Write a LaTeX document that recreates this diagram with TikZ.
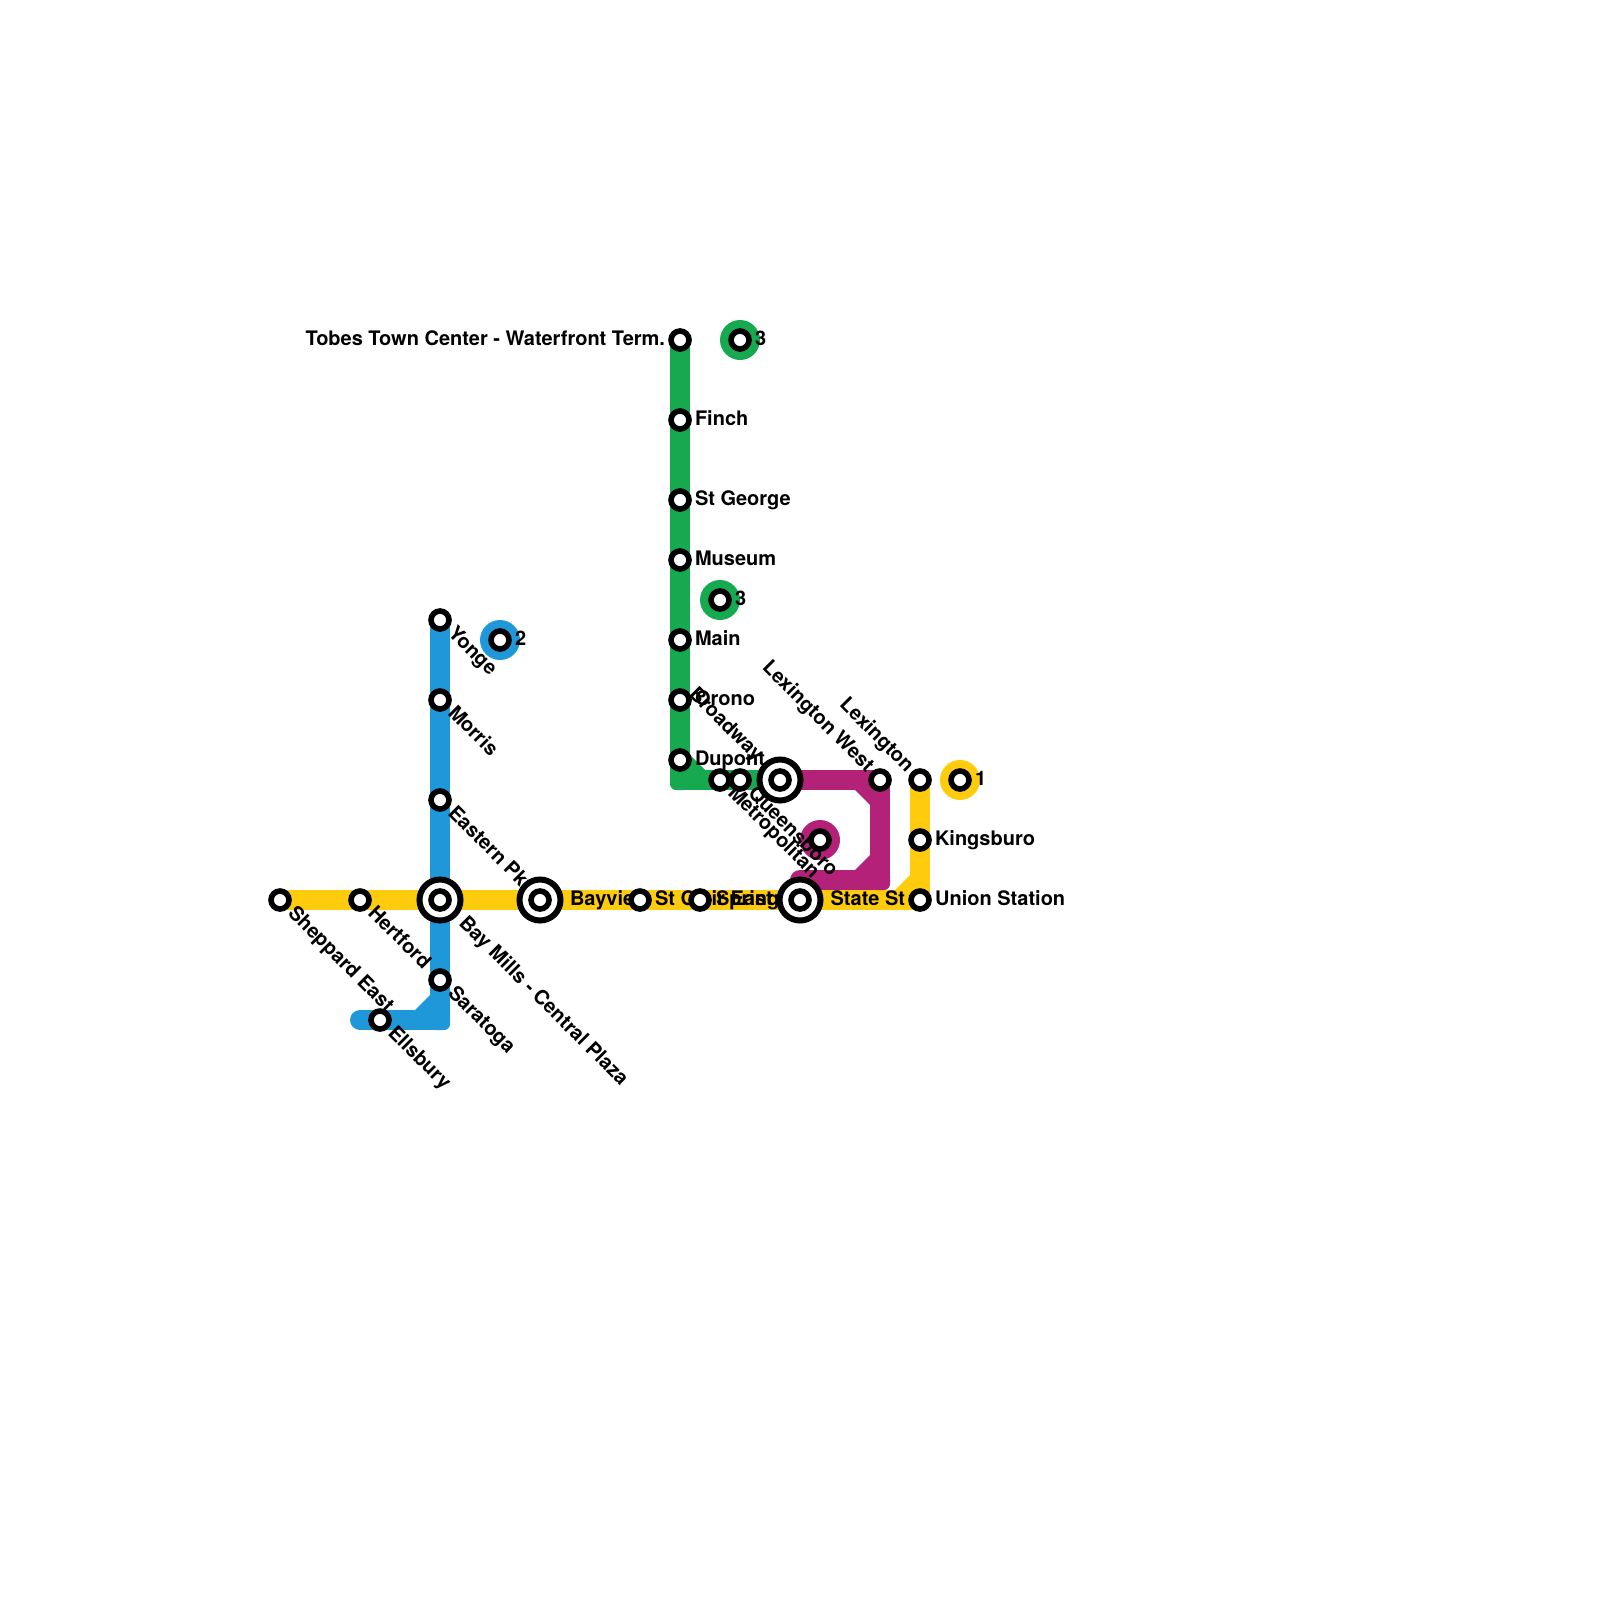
\documentclass[tikz,border=0pt]{standalone}
\usepackage{fontspec}
\setmainfont{TeX Gyre Heros}
\definecolor{yel}{HTML}{FFCB0D}
\definecolor{grn}{HTML}{16A950}
\definecolor{blu}{HTML}{1E98D8}
\definecolor{pur}{HTML}{B32278}
\tikzset{
  x=1pt,y=-1pt,
  every node/.style={inner sep=0pt,outer sep=0pt},
  route/.style={line width=20pt,line cap=round,line join=round},
  cornerbox/.style={rectangle,minimum size=20pt,rounded corners=6pt},
  stn/.style={circle,draw=black,fill=white,line width=5.6pt,minimum size=18pt},
  hubring/.style={circle,draw=black,fill=white,line width=6pt,minimum size=41pt},
  lbl/.style={font=\fontsize{20pt}{24pt}\selectfont\bfseries,text=black},
  lr/.style={lbl,anchor=base west},
  ll/.style={lbl,anchor=base east},
  ld/.style={lbl,anchor=base west,rotate=-45},
  lu/.style={lbl,anchor=base east,rotate=-45},
}
\begin{document}
\begin{tikzpicture}
\useasboundingbox (0,0) rectangle (1600,1600);
% coordinates
\foreach \n/\x/\y in {sheppard/280/900,hertford/360/900,baymills/440/900,bayview/540/900,stc/640/900,spe/700/900,statest/800/900,union/920/900,kingsburo/920/840,lexington/920/780,
 tobes/680/340,finch/680/420,stgeorge/680/500,museum/680/560,main/680/640,orono/680/700,dupont/680/760,broadway/720/780,queensboro/740/780,metropolitan/780/780,lexwest/880/780,
 yonge/440/620,morris/440/700,eastern/440/800,saratoga/440/980,ellsbury/380/1020,
 leg1/960/780,leg2/500/640,leg3a/740/340,leg3b/720/600,legp/820/840,
 gc/680/780,bc/440/1020,be/360/1020,pc1/880/780,pc2/880/880,pe/800/880,yc/920/900}
 {\coordinate (\n) at (\x,\y);}
% legend discs
\fill[yel] (leg1) circle (20);
\fill[blu] (leg2) circle (20);
\fill[grn] (leg3a) circle (20);
\fill[grn] (leg3b) circle (20);
\fill[pur] (legp) circle (20);
% routes
\draw[route,yel] (sheppard) -- (union) -- (lexington);
\node[cornerbox,fill=yel] at (yc) {};
\fill[yel] (910,875) -- (910,890) -- (895,890) -- cycle;
\draw[route,blu] (yonge) -- (bc) -- (be);
\node[cornerbox,fill=blu] at (bc) {};
\fill[blu] (430,995) -- (430,1010) -- (415,1010) -- cycle;
\draw[route,grn] (tobes) -- (gc) -- (metropolitan);
\node[cornerbox,fill=grn] at (gc) {};
\fill[grn] (690,755) -- (690,770) -- (705,770) -- cycle;
\draw[route,pur] (metropolitan) -- (pc1) -- (pc2) -- (pe);
\node[cornerbox,fill=pur] at (pc2) {};
\fill[pur] (855,790) -- (870,790) -- (870,805) -- cycle;
\fill[pur] (870,855) -- (870,870) -- (855,870) -- cycle;
% labels
\node[ll] at (665,345) {Tobes Town Center - Waterfront Term.};
\node[lr] at (695,425) {Finch};
\node[lr] at (695,505) {St George};
\node[lr] at (695,565) {Museum};
\node[lr] at (695,645) {Main};
\node[lr] at (695,705) {Orono};
\node[lr] at (695,765) {Dupont};
\node[lr] at (935,845) {Kingsburo};
\node[lr] at (935,905) {Union Station};
\node[lr] at (570,905) {Bayview};
\node[lr] at (655,905) {St Clair East};
\node[lr] at (716,905) {Spring};
\node[ll] at (905,905) {State St};
\node[lr] at (515,645) {2};
\node[lr] at (755,345) {3};
\node[lr] at (735,605) {3};
\node[lr] at (975,785) {1};
\node[ld] at (287,914) {Sheppard East};
\node[ld] at (367,914) {Hertford};
\node[ld] at (458,924) {Bay Mills - Central Plaza};
\node[ld] at (447,634) {Yonge};
\node[ld] at (447,714) {Morris};
\node[ld] at (447,814) {Eastern Pkwy};
\node[ld] at (447,994) {Saratoga};
\node[ld] at (387,1034) {Ellsbury};
\node[ld] at (688,695) {Broadway};
\node[ld] at (747,794) {Queensboro};
\node[ld] at (727,794) {Metropolitan};
\node[lu] at (866,773) {Lexington West};
\node[lu] at (906,773) {Lexington};
% stations
\foreach \n in {sheppard,hertford,stc,spe,union,kingsburo,lexington,tobes,finch,stgeorge,museum,main,orono,dupont,broadway,queensboro,lexwest,yonge,morris,eastern,saratoga,ellsbury,leg1,leg2,leg3a,leg3b,legp}
  \node[stn] (s\n) at (\n) {};
\foreach \n in {baymills,bayview,statest,metropolitan}{
  \node[hubring] (h\n) at (\n) {};
  \node[stn] (s\n) at (\n) {};
}
\end{tikzpicture}
\end{document}
